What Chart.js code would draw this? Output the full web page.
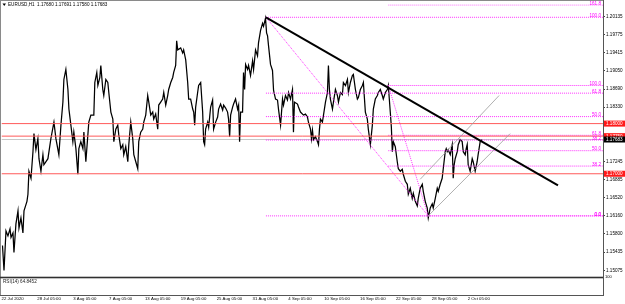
<!DOCTYPE html>
<html><head><meta charset="utf-8">
<script src="https://cdn.jsdelivr.net/npm/chart.js@4.4.1/dist/chart.umd.min.js"></script>
<style>html,body{margin:0;padding:0;background:#fff;overflow:hidden}canvas{display:block}</style>
</head><body>
<canvas id="c" width="625" height="304"></canvas>
<script>
// ---------- text ----------
const headerText = 'EURUSD,H1  1.17680 1.17691 1.17580 1.17683';
const rsiText = 'RSI(14) 64.8452';

// ---------- x axis (trading days from 22 Jul 2020) ----------
const dayTicks = [0,4,8,12,16,20,24,28,32,36,40,44,48,52];
const dayLabels = ['22 Jul 2020','28 Jul 05:00','3 Aug 05:00','7 Aug 05:00','13 Aug 05:00','19 Aug 05:00','25 Aug 05:00','31 Aug 05:00','4 Sep 05:00','10 Sep 05:00','16 Sep 05:00','22 Sep 05:00','28 Sep 05:00','2 Oct 05:00'];
const X_MIN = 0, X_MAX = 67.1;

// ---------- price axis ----------
const priceTicks = [1.20135,1.19775,1.19415,1.19050,1.18690,1.18330,1.17245,1.16885,1.16520,1.16160,1.15800,1.15435,1.15075];
const P_MIN = 1.14937, P_MAX = 1.20377;

// ---------- price series ----------
const priceDays = [
0.11,0.28,0.50,0.72,0.95,1.06,1.28,1.39,1.61,1.84,
1.95,2.17,2.39,2.51,2.84,2.95,3.06,3.29,3.51,3.62,
3.84,4.06,4.18,4.40,4.62,4.73,5.18,5.51,5.85,6.07,
6.40,6.63,6.85,6.96,7.18,7.41,7.52,7.74,7.96,8.07,
8.30,8.52,8.63,8.85,9.08,9.19,9.41,9.74,9.97,10.30,
10.41,10.63,10.75,10.97,11.08,11.30,11.41,11.64,11.86,11.97,
12.20,12.42,12.53,12.75,12.97,13.08,13.31,13.53,13.64,13.86,
14.09,14.20,14.42,14.64,14.76,14.98,15.20,15.31,15.53,15.76,
15.87,16.09,16.31,16.43,16.65,16.87,16.98,17.20,17.43,17.54,
17.76,17.98,18.10,18.32,18.54,18.65,18.88,19.10,19.21,19.43,
19.54,19.66,19.99,20.21,20.32,20.55,20.77,20.88,21.10,21.33,
21.44,21.55,21.66,21.88,21.99,22.22,22.44,22.55,22.66,22.77,
23.00,23.11,23.33,23.55,23.66,23.89,24.11,24.22,24.44,24.67,
24.78,25.00,25.22,25.33,25.45,25.56,25.78,25.89,26.11,26.34,
26.45,26.56,26.67,26.89,27.00,27.12,27.23,27.45,27.56,27.78,
28.01,28.12,28.34,28.56,28.67,28.90,29.12,29.23,29.45,29.57,
29.68,29.79,30.01,30.23,30.35,30.57,30.79,30.90,31.13,31.35,
31.46,31.68,31.90,32.02,32.24,32.46,32.57,32.68,33.02,33.13,
33.35,33.69,33.91,34.13,34.24,34.47,34.58,34.69,34.80,35.02,
35.25,35.36,35.47,35.58,35.80,35.92,36.14,36.36,36.47,36.58,
36.69,36.92,37.03,37.25,37.47,37.59,37.81,38.03,38.14,38.37,
38.59,38.70,38.92,39.14,39.25,39.48,39.70,39.81,40.03,40.26,
40.37,40.59,40.81,40.92,41.15,41.37,41.48,41.70,41.93,42.04,
42.26,42.48,42.59,42.82,43.04,43.15,43.37,43.49,43.60,43.71,
43.93,44.15,44.27,44.49,44.71,44.82,45.05,45.27,45.38,45.60,
45.82,45.94,46.16,46.38,46.49,46.71,46.94,47.05,47.27,47.49,
47.61,47.83,48.05,48.16,48.39,48.61,48.72,48.94,49.16,49.28,
49.50,49.61,49.72,49.83,50.06,50.28,50.39,50.50,50.61,50.84,
50.95,51.17,51.39,51.51,51.73,51.84,51.95,52.06,52.28,52.51,
52.62,52.84,53.06,53.17,53.40,53.62];
const priceValues = [
1.1557,1.1507,1.1586,1.1576,1.1590,1.1573,1.1582,1.1543,1.1600,1.1626,
1.1592,1.1612,1.1582,1.1626,1.1645,1.1659,1.1705,1.1691,1.1744,1.1780,
1.1748,1.1770,1.1730,1.1705,1.1738,1.1718,1.1730,1.1770,1.1803,1.1770,
1.1738,1.1797,1.1843,1.1888,1.1908,1.1868,1.1829,1.1797,1.1764,1.1783,
1.1750,1.1699,1.1750,1.1764,1.1750,1.1783,1.1724,1.1803,1.1817,1.1817,
1.1882,1.1902,1.1876,1.1892,1.1916,1.1868,1.1856,1.1888,1.1882,1.1862,
1.1823,1.1809,1.1764,1.1789,1.1797,1.1778,1.1750,1.1758,1.1738,1.1754,
1.1724,1.1758,1.1803,1.1770,1.1738,1.1724,1.1710,1.1764,1.1783,1.1789,
1.1803,1.1817,1.1856,1.1843,1.1817,1.1823,1.1809,1.1819,1.1789,1.1837,
1.1843,1.1849,1.1862,1.1837,1.1856,1.1868,1.1882,1.1892,1.1902,1.1916,
1.1965,1.1947,1.1951,1.1941,1.1947,1.1927,1.1882,1.1849,1.1849,1.1829,
1.1823,1.1797,1.1833,1.1862,1.1876,1.1882,1.1823,1.1764,1.1758,1.1789,
1.1803,1.1793,1.1833,1.1847,1.1789,1.1803,1.1813,1.1829,1.1839,1.1827,
1.1837,1.1831,1.1823,1.1809,1.1774,1.1817,1.1833,1.1839,1.1849,1.1829,
1.1837,1.1764,1.1823,1.1823,1.1902,1.1868,1.1918,1.1908,1.1916,1.1896,
1.1925,1.1908,1.1947,1.1935,1.1961,1.1986,1.2000,1.1994,1.2010,1.1981,
1.1975,1.1955,1.1918,1.1906,1.1866,1.1849,1.1847,1.1829,1.1797,1.1849,
1.1837,1.1856,1.1847,1.1862,1.1849,1.1868,1.1783,1.1843,1.1839,1.1833,
1.1823,1.1817,1.1819,1.1813,1.1803,1.1789,1.1770,1.1787,1.1768,1.1774,
1.1764,1.1758,1.1789,1.1809,1.1803,1.1817,1.1843,1.1862,1.1916,1.1868,
1.1849,1.1829,1.1843,1.1868,1.1856,1.1843,1.1862,1.1858,1.1882,1.1876,
1.1888,1.1862,1.1882,1.1896,1.1898,1.1868,1.1849,1.1852,1.1868,1.1876,
1.1882,1.1823,1.1809,1.1789,1.1758,1.1797,1.1829,1.1849,1.1856,1.1862,
1.1868,1.1856,1.1849,1.1862,1.1868,1.1876,1.1823,1.1793,1.1744,1.1764,
1.1754,1.1724,1.1710,1.1705,1.1709,1.1699,1.1685,1.1679,1.1659,1.1671,
1.1651,1.1661,1.1645,1.1636,1.1651,1.1671,1.1679,1.1665,1.1645,1.1632,
1.1612,1.1632,1.1640,1.1632,1.1651,1.1671,1.1665,1.1679,1.1691,1.1710,
1.1744,1.1750,1.1744,1.1748,1.1738,1.1758,1.1691,1.1718,1.1730,1.1744,
1.1758,1.1768,1.1764,1.1744,1.1738,1.1750,1.1758,1.1718,1.1705,1.1730,
1.1724,1.1705,1.1724,1.1738,1.1764,1.1768];

// ---------- RSI sub-window ----------
const rsiDays = [
0,0.50,1.06,1.61,2.17,2.73,3.29,3.84,4.40,4.96,
5.51,6.07,6.63,7.18,7.74,8.30,8.85,9.41,9.97,10.52,
11.08,11.64,12.20,12.75,13.31,13.86,14.42,14.98,15.53,16.09,
16.65,17.20,17.76,18.32,18.88,19.43,19.99,20.55,20.88,21.44,
21.99,22.44,22.77,23.33,23.89,24.44,25.00,25.56,26.11,26.67,
27.23,27.78,28.34,28.90,29.45,30.01,30.57,31.13,31.68,32.24,
32.80,33.35,33.91,34.47,35.02,35.58,36.14,36.47,37.03,37.59,
38.14,38.70,39.25,39.81,40.37,40.92,41.48,42.04,42.59,43.15,
43.71,44.27,44.82,45.38,45.94,46.49,47.05,47.61,48.16,48.72,
49.28,49.83,50.39,50.95,51.51,52.06,52.62,53.17,53.62];
const rsiValues = [
69,56,66,51,56,44,51,44,51,56,
62,51,66,69,38,32,44,44,56,51,
51,44,38,44,44,51,44,32,51,44,
47,51,44,51,62,69,56,56,28,32,
44,24,44,51,38,44,47,56,44,51,
66,56,66,62,69,32,38,28,44,51,
44,38,44,38,32,44,56,75,51,51,
56,56,66,44,51,28,44,51,56,28,
38,32,44,38,32,44,51,44,32,44,
51,66,56,44,51,51,38,44,65];
const rsiLevels = [72,56,41,24];
const rsiTicks = [100];

// ---------- drawn objects ----------
const redLevels = [1.18000, 1.17750, 1.17000];
const redLabels = ['1.18000','1.17750','1.17000'];
const bidPrice = 1.17683;
const bidLabel = '1.17683';
const trendDays = [29.5, 62.08];
const trendPrices = [1.2012, 1.1677];
const channelUpperDays = [46.71, 55.51];
const channelUpperPrices = [1.1689, 1.1856];
const channelLowerDays = [47.49, 56.74];
const channelLowerPrices = [1.1614, 1.1780];
const fibAnchorDays = [[29.5, 47.6], [43.15, 47.6]];
const fibAnchorPrices = [[1.2012, 1.1616], [1.1876, 1.1616]];
const fibRatios = [0, 38.2, 50, 61.8, 100, 161.8];
const fibLabels = ['0.0','38.2','50.0','61.8','100.0','161.8'];

const FONT = "'Liberation Sans', Arial, sans-serif";
const pts = (xs, ys) => xs.map((x, i) => ({x, y: ys[i]}));

const datasets = [];
datasets.push({data: pts([X_MIN, X_MAX], [bidPrice, bidPrice]), borderColor: '#c8c8c8', borderWidth: 1, order: 9, yAxisID: 'y'});
datasets.push({data: pts(priceDays, priceValues), borderColor: '#000', borderWidth: 1.25, order: 6, yAxisID: 'y'});
redLevels.forEach(v => datasets.push({data: pts([X_MIN, X_MAX], [v, v]), borderColor: '#ff5a5a', borderWidth: 1, order: 3, yAxisID: 'y'}));
fibAnchorPrices.forEach((ap, k) => {
  const d0 = fibAnchorDays[k][0];
  fibRatios.forEach(r => {
    const v = ap[1] + r / 100 * (ap[0] - ap[1]);
    datasets.push({data: pts([d0, X_MAX], [v, v]), borderColor: '#ff33ff', borderWidth: 1, borderDash: [1, 1], order: 4, yAxisID: 'y'});
  });
  datasets.push({data: pts(fibAnchorDays[k], ap), borderColor: '#ff33ff', borderWidth: 1, borderDash: [1, 1], order: 4, yAxisID: 'y'});
});
datasets.push({data: pts(channelUpperDays, channelUpperPrices), borderColor: '#9a9a9a', borderWidth: 0.8, order: 2, yAxisID: 'y'});
datasets.push({data: pts(channelLowerDays, channelLowerPrices), borderColor: '#9a9a9a', borderWidth: 0.8, order: 2, yAxisID: 'y'});
datasets.push({data: pts(trendDays, trendPrices), borderColor: '#000', borderWidth: 2, order: 1, yAxisID: 'y'});
rsiLevels.forEach(v => datasets.push({data: pts([X_MIN, X_MAX], [v, v]), borderColor: '#b8b8b8', borderWidth: 1, borderDash: [1, 1], order: 8, yAxisID: 'r'}));
datasets.push({data: pts(rsiDays, rsiValues), borderColor: '#ff00ff', borderWidth: 1, order: 7, yAxisID: 'r'});

const overlay = {
  id: 'overlay',
  afterDatasetsDraw(chart) {
    const {ctx, chartArea: ca} = chart;
    const ys = chart.scales.y;
    ctx.save();
    ctx.font = `4.6px ${FONT}`;
    ctx.fillStyle = '#ff00ff';
    ctx.textAlign = 'right';
    ctx.textBaseline = 'bottom';
    fibAnchorPrices.forEach(ap => {
      fibRatios.forEach((r, j) => {
        const v = ap[1] + r / 100 * (ap[0] - ap[1]);
        const py = ys.getPixelForValue(v);
        if (py < ys.top || py > ys.bottom) return;
        ctx.fillText(fibLabels[j], ca.right - 2, py + 0.8);
      });
    });
    ctx.restore();
  },
  afterDraw(chart) {
    const {ctx, chartArea: ca} = chart;
    const ys = chart.scales.y, rs = chart.scales.r;
    ctx.save();
    // frame
    ctx.strokeStyle = '#8a8a8a';
    ctx.lineWidth = 1;
    ctx.strokeRect(0.5, 0.5, ca.right, rs.bottom);
    ctx.fillStyle = '#303030';
    ctx.fillRect(0, ys.bottom - 0.5, ca.right + 1, 1.6);
    ctx.fillStyle = '#555';
    ctx.fillRect(ca.right, 0, 1, rs.bottom + 1);
    ctx.fillRect(0, rs.bottom, ca.right + 1, 1);
    // axis price boxes
    ctx.font = `4.6px ${FONT}`;
    ctx.textAlign = 'left';
    ctx.textBaseline = 'middle';
    const box = (v, txt, bg) => {
      const py = ys.getPixelForValue(v);
      ctx.fillStyle = bg;
      ctx.fillRect(ca.right + 1, py - 3, 22, 6);
      ctx.fillStyle = '#fff';
      ctx.fillText(txt, ca.right + 3, py + 0.2);
    };
    redLevels.forEach((v, i) => box(v, redLabels[i], '#ff1a1a'));
    box(bidPrice, bidLabel, '#000');
    // header
    ctx.fillStyle = '#000';
    ctx.beginPath();
    ctx.moveTo(2.5, 3.5); ctx.lineTo(6, 3.5); ctx.lineTo(4.25, 6); ctx.closePath(); ctx.fill();
    ctx.fillText(headerText, 8, 5);
    // RSI label
    ctx.fillStyle = '#222';
    ctx.fillText(rsiText, 3, rs.top + 4.5);
    ctx.restore();
  }
};

new Chart(document.getElementById('c'), {
  type: 'line',
  data: {datasets},
  plugins: [overlay],
  options: {
    responsive: false,
    animation: false,
    devicePixelRatio: 1,
    events: [],
    layout: {padding: {left: 1, top: 1, right: 0, bottom: 0}},
    elements: {point: {radius: 0}, line: {tension: 0, fill: false}},
    plugins: {legend: {display: false}, tooltip: {enabled: false}, title: {display: false}},
    scales: {
      x: {
        type: 'linear', min: X_MIN, max: X_MAX,
        grid: {display: false, drawTicks: false, tickLength: 0}, border: {display: false},
        afterBuildTicks: s => { s.ticks = dayTicks.map(v => ({value: v})); },
        afterFit: s => { s.height = 9; },
        ticks: {
          autoSkip: false, maxRotation: 0, align: 'start', padding: 1.5,
          color: '#000', font: {family: FONT, size: 4.3},
          callback: (v, i) => dayLabels[i]
        }
      },
      y: {
        type: 'linear', position: 'right', stack: 'w', stackWeight: 276,
        min: P_MIN, max: P_MAX,
        grid: {drawOnChartArea: false, drawTicks: true, tickLength: 2, color: '#444'},
        border: {display: false},
        afterBuildTicks: s => { s.ticks = priceTicks.map(v => ({value: v})); },
        afterFit: s => { s.width = 22; },
        ticks: {
          autoSkip: false, padding: 1, color: '#000', font: {family: FONT, size: 4.6},
          callback: v => Number(v).toFixed(5)
        }
      },
      r: {
        type: 'linear', position: 'right', stack: 'w', stackWeight: 18,
        min: 0, max: 100,
        grid: {drawOnChartArea: false, drawTicks: false, tickLength: 0},
        border: {display: false},
        afterBuildTicks: s => { s.ticks = rsiTicks.map(v => ({value: v})); },
        afterFit: s => { s.width = 22; },
        ticks: {autoSkip: false, padding: 2, color: '#000', font: {family: FONT, size: 4}, callback: v => String(v)}
      }
    }
  }
});
</script>
</body></html>
